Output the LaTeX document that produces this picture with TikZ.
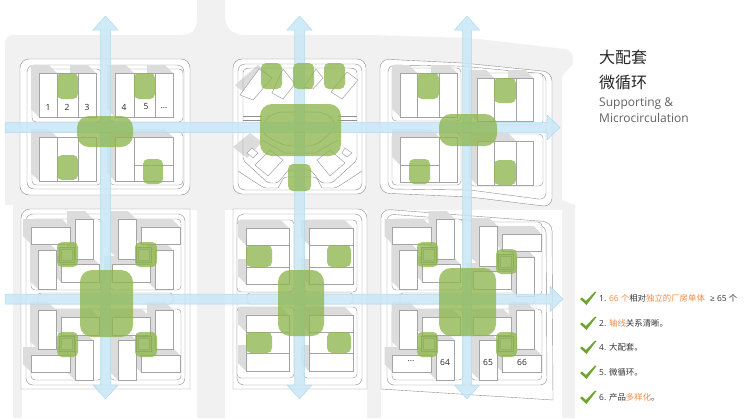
\documentclass[tikz,border=0pt]{standalone}
\usepackage{fontspec}
\setmainfont{Open Sans}
\newfontfamily\cjk{Noto Sans CJK SC}
\definecolor{groundgray}{HTML}{F1F1F1}
\definecolor{shadegray}{HTML}{DCDCDC}
\definecolor{linegray}{HTML}{8E8E8E}
\definecolor{lotgray}{HTML}{A4A4A4}
\definecolor{axisblue}{HTML}{C8E7F7}
\definecolor{axisedge}{HTML}{B0DAEF}
\definecolor{hubgreen}{HTML}{8DB64F}
\definecolor{tickgreen}{HTML}{6FA52F}
\definecolor{noteorange}{HTML}{F08A45}
\tikzset{
  road/.style={draw=linegray, line width=.4pt, fill=white},
  roadline/.style={draw=linegray, line width=.4pt},
  lot/.style={draw=lotgray, line width=.5pt, fill=white},
  axis/.style={draw=axisedge, line width=.5pt, fill=axisblue, fill opacity=.85},
  hub/.style={fill=hubgreen, fill opacity=.78},
  lotlabel/.style={font=\fontsize{8.5}{10}\selectfont, text=black!85, inner sep=0pt},
  note/.style={anchor=west, font=\fontsize{8.4}{10}\selectfont, text=black!80, inner sep=0pt},
  title/.style={anchor=west, font=\cjk\fontsize{16}{18}\selectfont, text=black!85, inner sep=0pt},
  subtitle/.style={anchor=west, font=\fontsize{12}{14}\selectfont, text=black!62, inner sep=0pt}
}
% shadow falls to the upper left of a lot, whatever the order of its corners
\newcommand{\lotshade}[4]{
  \pgfmathsetmacro{\xa}{min(#1,#3)}\pgfmathsetmacro{\xb}{max(#1,#3)}
  \pgfmathsetmacro{\ya}{min(#2,#4)}\pgfmathsetmacro{\yb}{max(#2,#4)}
  \fill[shadegray] (\xa,\yb) -- (\xa-8,\yb-8) -- (\xa-8,\ya-8) -- (\xb-8,\ya-8) -- (\xb,\ya) -- cycle;
}
% one pinwheel of four lots round a small court
\newcommand{\pinquad}[4]{
  \foreach \da/\ea/\db/\eb in {35.5/55.5/74.5/72.5, 12.5/40.5/30.5/80.5, 49.5/10.5/67.5/49.5, 6.5/17.5/44.5/35.5}{
    \lotshade{#1+#3*\da}{#2+#4*\ea}{#1+#3*\db}{#2+#4*\eb}
  }
  \foreach \da/\ea/\db/\eb in {35.5/55.5/74.5/72.5, 12.5/40.5/30.5/80.5, 49.5/10.5/67.5/49.5, 6.5/17.5/44.5/35.5}{
    \draw[lot] (#1+#3*\da,#2+#4*\ea) rectangle (#1+#3*\db,#2+#4*\eb);
  }
  \draw[roadline, fill=shadegray] (#1+#3*31,#2+#4*37) rectangle (#1+#3*46,#2+#4*52);
  \draw[lot, fill=shadegray!35] (#1+#3*33,#2+#4*39) rectangle (#1+#3*44,#2+#4*50);
}
\newcommand{\tick}[1]{
  \fill[tickgreen] (580,#1+1) -- (582,#1-.5) -- (586,#1+3) -- (595,#1-6.5) -- (596.5,#1-6) -- (586.5,#1+7) -- cycle;
}
\begin{document}
\begin{tikzpicture}[x=1pt, y=-1pt]
  \useasboundingbox (0,0) rectangle (750,418);

  % ground
  \fill[groundgray, rounded corners=8pt] (5,205) -- (5,35) -- (190,35) -- (197,28) [sharp corners] -- (197,0) -- (225,0) [rounded corners=8pt] -- (225,25) -- (235,35) -- (370,35) -- (470,38) -- (573,50) [sharp corners] -- (573,64) -- (562,76) -- (562,200) -- (575,205) -- (575,418) -- (13,418) -- (13,205) -- cycle;
  \fill[white] (22,210) rectangle (197,418) (225,210) rectangle (367,418) (381,210) rectangle (562,418);

  % upper row
  \draw[road, rounded corners=9pt] (20,59) rectangle (190,195);
  \draw[road, rounded corners=7pt] (27,65) rectangle (184,189);
  \draw[road, rounded corners=9pt] (233,59) rectangle (366,194);
  \draw[road, rounded corners=7pt] (238,64) rectangle (362,190);
  \draw[road, rounded corners=9pt] (380,59) -- (463,63) -- (552,72) -- (552,207) -- (470,197) -- (380,193) -- cycle;
  \draw[road, rounded corners=7pt] (388,65) -- (460,66) -- (546,74) -- (546,200) -- (470,190) -- (388,189) -- cycle;
  \foreach \xa/\ya/\xb/\yb in {32/69/101/122, 110/69/183/122, 32/132/101/185, 110/132/183/185, 392/68/461/121, 470/73/543/125, 392/133/461/185, 470/134/543/186}{
    \draw[road, rounded corners=4pt] (\xa,\ya) rectangle (\xb,\yb);
  }
  \foreach \xa/\ya/\xb/\yb in {39/73/57/117, 78/73/96/117, 115/73/134/117, 155/73/173/117, 39/137/57/181, 115/137/134/181, 134/137/173/165, 400/73/417/117, 439/73/457/117, 477/78/494/121, 516/78/533/121, 400/137/439/165, 439/165/457/182, 477/141/494/185, 494/141/516/185}{
    \lotshade{\xa}{\ya}{\xb}{\yb}
  }
  \foreach \xa/\ya/\xb/\yb in {39/73/57/117, 57/73/78/117, 78/73/96/117, 115/73/134/117, 134/73/155/117, 155/73/173/117, 39/137/57/181, 57/137/78/181, 78/137/96/181, 115/137/134/181, 134/137/173/165, 134/165/173/181, 400/73/417/117, 417/73/439/117, 439/73/457/117, 477/78/494/121, 494/78/516/121, 516/78/533/121, 400/137/439/165, 400/165/439/182, 439/137/457/182, 477/141/494/185, 494/141/516/185, 516/141/533/185}{
    \draw[lot] (\xa,\ya) rectangle (\xb,\yb);
  }

  % diagonal block
  \fill[shadegray] (235,85) -- (258,65) -- (272,78) -- (253,100) -- cycle;
  \fill[shadegray] (233,147) -- (250,133) -- (262,142) -- (247,158) -- cycle;
  \draw[roadline, rounded corners=3pt] (243,122) -- (243,70) -- (248,68) -- (352,68) -- (357,70) -- (357,122);
  \draw[roadline, rounded corners=3pt] (243,133) -- (243,160) -- (268,183) -- (278,183) -- (288,170) -- (311,170) -- (321,183) -- (332,183) -- (357,160) -- (357,133);
  \draw[roadline, rounded corners=3pt] (238,171) -- (264,188) -- (278,188) (362,171) -- (336,188) -- (322,188);
  \draw[roadline, rounded corners=3pt] (278,188) -- (284,177) -- (316,177) -- (322,188);
  \foreach \ax/\ay/\bx/\by/\cx/\cy/\dx/\dy in {240/95/253/100/272/78/259/69, 272/93/283/99/295/84/283/69, 304/87/313/89/323/78/316/69, 331/92/342/99/358/80/347/72, 255/165/268/176/283/160/270/150, 345/163/330/176/317/160/330/150, 247/153/253/158/258/153/252/148, 342/153/347/157/352/153/345/148}{
    \draw[lot] (\ax,\ay) -- (\bx,\by) -- (\cx,\cy) -- (\dx,\dy) -- cycle;
  }
  \draw[roadline] (243,116) -- (262,116) (243,120) -- (262,120) (338,116) -- (357,116) (338,120) -- (357,120);
  \draw[lot, fill=none, rounded corners=8pt] (275,112) -- (325,112) -- (338,125) -- (325,138) -- (315,146) -- (285,146) -- (262,134) -- (262,122) -- cycle;
  \draw[lot, fill=none] (262,140) -- (285,153) -- (315,153) -- (338,140);

  % lower row
  \draw[road] (21,389) [rounded corners=9pt] -- (21,209) [sharp corners] -- (190,209) -- (190,389) -- cycle;
  \draw[road, rounded corners=7pt] (26,214) rectangle (185,385);
  \draw[road] (233,389) -- (233,209) [rounded corners=9pt] -- (367,209) [sharp corners] -- (367,389) -- cycle;
  \draw[road, rounded corners=7pt] (237,214) rectangle (362,385);
  \draw[road] (381,389) [rounded corners=9pt] -- (381,209) -- (552,222) [sharp corners] -- (553,400) -- cycle;
  \draw[road, rounded corners=7pt] (387,214) -- (546,226) -- (547,385) -- (387,385) -- cycle;
  \foreach \xa/\ya/\xb/\yb in {31/219/102/290, 110/219/181/290, 31/309/102/380, 110/309/181/380, 237/220/294/292, 303/220/357/292, 237/307/294/378, 303/307/357/378, 392/219/463/290, 471/222/542/295, 392/309/463/380, 471/309/542/380}{
    \draw[road, rounded corners=4pt] (\xa,\ya) rectangle (\xb,\yb);
  }
  \foreach \xa/\xb in {38/173, 247/353, 400/535}{
    \draw[road, rounded corners=3pt] (\xa,293) rectangle (\xb,304);
  }
  \pinquad{105.5}{299.5}{-1}{-1}
  \pinquad{105.5}{299.5}{1}{-1}
  \pinquad{105.5}{299.5}{-1}{1}
  \pinquad{105.5}{299.5}{1}{1}
  \pinquad{467}{299.5}{-1}{-1}
  \pinquad{467}{306.5}{1}{-1}
  \pinquad{467}{299.5}{-1}{1}
  \pinquad{467}{299.5}{1}{1}
  \foreach \xa/\ya/\xb/\yb in {246/228/289/245, 246/267/289/284, 309/228/353/245, 309/267/353/284, 246/315/289/332, 246/353/289/371, 309/315/353/332, 309/353/353/371}{
    \lotshade{\xa}{\ya}{\xb}{\yb}
  }
  \foreach \xa/\ya/\xb/\yb in {246/228/289/245, 246/245/289/267, 246/267/289/284, 309/228/353/245, 309/245/353/267, 309/267/353/284, 246/315/289/332, 246/332/289/353, 246/353/289/371, 309/315/353/332, 309/332/353/353, 309/353/353/371}{
    \draw[lot] (\xa,\ya) rectangle (\xb,\yb);
  }

  % axes
  \foreach \cx/\cw in {105.5/5, 299.5/5, 467/4.5}{
    \draw[axis] (\cx,16) -- (\cx+12.5,30) -- (\cx+\cw,30) -- (\cx+\cw,385) -- (\cx+12.5,385) -- (\cx,399) -- (\cx-12.5,385) -- (\cx-\cw,385) -- (\cx-\cw,30) -- (\cx-12.5,30) -- cycle;
  }
  \foreach \cy/\tipx in {127.5/560, 299/563}{
    \draw[axis] (5,\cy-5) -- (\tipx-13,\cy-5) -- (\tipx-13,\cy-12.5) -- (\tipx,\cy) -- (\tipx-13,\cy+12.5) -- (\tipx-13,\cy+5) -- (5,\cy+5) -- cycle;
  }

  % hubs
  \foreach \xa/\ya/\xb/\yb in {57/73/78/99, 57/155/78/180, 134/73/155/99, 143/159/163/184, 261/63/282/89, 293/63/314/89, 324/63/345/89, 288/164/311/191, 417/73/439/99, 494/78/516/103, 409/159/430/184, 494/160/516/185, 57/242/78/267, 135/242/157/267, 57/332/78/357, 135/332/157/357, 246/245/272/267, 327/245/351/267, 246/332/272/353, 327/332/351/353, 417/242/438/267, 496/249/517/274, 417/332/438/357, 496/332/517/357}{
    \fill[hub, rounded corners=5pt] (\xa,\ya) rectangle (\xb,\yb);
  }
  \foreach \xa/\ya/\xb/\yb in {77/116/133/147, 260/104/341/156, 439/114/497/146, 80/270/133/337, 278/270/324/336, 439/268/496/336}{
    \fill[hub, rounded corners=12pt] (\xa,\ya) rectangle (\xb,\yb);
  }

  % lot numbers
  \foreach \x/\t in {48/1, 67/2, 87/3, 124/4, 146/5}{
    \node[lotlabel] (lot\t) at (\x,107) {\t};
  }
  \node[lotlabel] (lotmore) at (164,108) {...};
  \node[lotlabel] (lotrest) at (411,361) {...};
  \foreach \x/\t in {445/64, 488/65, 522/66}{
    \node[lotlabel] (lot\t) at (\x,362) {\t};
  }

  % title
  \node[title] (titlecn) at (599,57) {大配套};
  \node[title] (subcn) at (599,82) {微循环};
  \node[subtitle] (titleen) at (599,104) {Supporting \&};
  \node[subtitle] (suben) at (599,118) {Microcirculation};

  % notes
  \foreach \y in {298, 323, 347, 372, 397}{
    \tick{\y}
  }
  \node[note] (noteone) at (599,298) {1. \textcolor{noteorange}{66 {\cjk 个}}{\cjk 相对\textcolor{noteorange}{独立的厂房单体}}};
  \node[note] (notemore) at (710,298) {≥ 65 {\cjk 个}};
  \node[note] (notetwo) at (599,323) {2. {\cjk\textcolor{noteorange}{轴线}关系清晰。}};
  \node[note] (notefour) at (599,347) {4. {\cjk 大配套。}};
  \node[note] (notefive) at (599,372) {5. {\cjk 微循环。}};
  \node[note] (notesix) at (599,397) {6. {\cjk 产品\textcolor{noteorange}{多样化}。}};
\end{tikzpicture}
\end{document}
